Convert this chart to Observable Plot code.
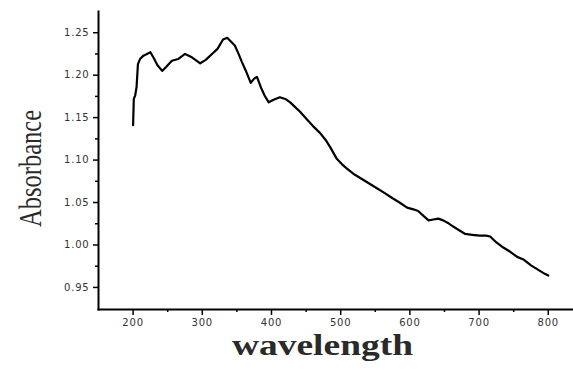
<!DOCTYPE html>
<html>
<head>
<meta charset="utf-8">
<script src="https://cdn.jsdelivr.net/npm/d3@7"></script>
<script src="https://cdn.jsdelivr.net/npm/@observablehq/plot@0.6"></script>
<style>
  html, body { margin: 0; padding: 0; background: #fff; }
</style>
</head>
<body>
<div id="chart"></div>
<script>
const wavelength = [200, 201, 203, 205, 207, 210, 215, 220, 225, 230, 235, 242, 248, 256, 265, 275, 285, 297, 305, 314, 322, 330, 336, 342, 347, 352, 357, 363, 370, 375, 379, 385, 390, 396, 403, 412, 420, 427, 440, 451, 460, 470, 478, 485, 494, 502, 509, 520, 530, 540, 550, 562, 575, 585, 596, 605, 612, 620, 627, 634, 641, 648, 655, 662, 670, 680, 690, 701, 710, 716, 725, 735, 745, 755, 764, 775, 785, 795, 800];
const absorbance = [1.141, 1.172, 1.176, 1.186, 1.213, 1.219, 1.223, 1.225, 1.227, 1.220, 1.212, 1.205, 1.210, 1.217, 1.219, 1.225, 1.221, 1.214, 1.218, 1.225, 1.231, 1.242, 1.244, 1.239, 1.235, 1.226, 1.216, 1.205, 1.191, 1.196, 1.198, 1.185, 1.176, 1.168, 1.171, 1.174, 1.172, 1.168, 1.158, 1.148, 1.140, 1.132, 1.124, 1.115, 1.102, 1.095, 1.090, 1.083, 1.078, 1.073, 1.068, 1.062, 1.055, 1.050, 1.044, 1.042, 1.040, 1.034, 1.029, 1.030, 1.031, 1.029, 1.026, 1.022, 1.018, 1.013, 1.012, 1.011, 1.011, 1.010, 1.003, 0.997, 0.992, 0.986, 0.983, 0.976, 0.971, 0.966, 0.964];
const xTicks = [200, 300, 400, 500, 600, 700, 800];
const xMinorTicks = [250, 350, 450, 550, 650, 750];
const yTicks = [0.95, 1.00, 1.05, 1.10, 1.15, 1.20, 1.25];
const yMinorTicks = [0.975, 1.025, 1.075, 1.125, 1.175, 1.225];
const xLabel = "wavelength";
const yLabel = "Absorbance";

const data = wavelength.map((w, i) => ({w, a: absorbance[i]}));

const chart = Plot.plot({
  width: 573,
  height: 370,
  marginLeft: 98,
  marginRight: 1,
  marginTop: 11,
  marginBottom: 61,
  style: {background: "#fff", fontFamily: "DejaVu Sans", fontSize: "10px", color: "#333"},
  x: {domain: [150, 835]},
  y: {domain: [0.924, 1.275]},
  marks: [
    Plot.axisX(xTicks, {tickSize: 6, tickPadding: 3, tickFormat: d => String(d), label: null, stroke: "#000", strokeWidth: 1.5, fill: "#333"}),
    Plot.axisX(xMinorTicks, {tickSize: 3, tickFormat: () => "", label: null, stroke: "#000", strokeWidth: 1.5}),
    Plot.axisY(yTicks, {tickSize: 5, tickPadding: 4, tickFormat: d => d.toFixed(2), label: null, stroke: "#000", strokeWidth: 1.5, fill: "#333"}),
    Plot.axisY(yMinorTicks, {tickSize: 3, tickFormat: () => "", label: null, stroke: "#000", strokeWidth: 1.5}),
    Plot.frame({anchor: "left", stroke: "#000", strokeWidth: 2}),
    Plot.frame({anchor: "bottom", stroke: "#000", strokeWidth: 2}),
    Plot.line(data, {x: "w", y: "a", stroke: "#000", strokeWidth: 2.2}),
    Plot.text([xLabel], {frameAnchor: "bottom", dx: -13, dy: 45, fontSize: 30, fontFamily: "Liberation Serif", fontWeight: "bold", fill: "#2a2a2a", text: d => d}),
    Plot.text([yLabel], {frameAnchor: "left", textAnchor: "middle", lineAnchor: "middle", dx: -68, dy: 8, rotate: -90, fontSize: 32, fontFamily: "Liberation Serif", fill: "#2a2a2a", text: d => d})
  ]
});

document.getElementById("chart").appendChild(chart);

// stretch labels to match reference proportions
d3.select(chart).selectAll("text").each(function() {
  const t = this.textContent;
  if (t === xLabel) {
    this.setAttribute("textLength", 181);
    this.setAttribute("lengthAdjust", "spacingAndGlyphs");
  } else if (t === yLabel) {
    this.setAttribute("textLength", 117);
    this.setAttribute("lengthAdjust", "spacingAndGlyphs");
  }
});
d3.select(chart).selectAll("g[aria-label='x-axis tick label'] text, g[aria-label='y-axis tick label'] text")
  .style("letter-spacing", "0.8px");
</script>
</body>
</html>
